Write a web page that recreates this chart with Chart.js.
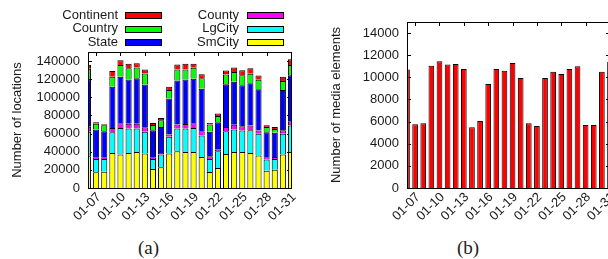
<!DOCTYPE html>
<html>
<head>
<meta charset="utf-8">
<script src="https://cdn.jsdelivr.net/npm/chart.js@4/dist/chart.umd.min.js"></script>
<style>
  html, body { margin: 0; padding: 0; background: #fff; overflow: hidden; width: 608px; height: 259px; }
  #wrapA { position: absolute; left: 0; top: 0; }
  #wrapB { position: absolute; left: 300px; top: 0; }
  .cap { position: absolute; top: 237px; font: 19px "Liberation Serif", "Times New Roman", serif; color: #222; }
</style>
</head>
<body>
<div id="wrapA"><canvas id="locChart" width="300" height="230"></canvas></div>
<div id="wrapB"><canvas id="mediaChart" width="320" height="230"></canvas></div>
<div class="cap" style="left:138px">(a)</div>
<div class="cap" style="left:457px">(b)</div>

<script>
// days 01-06 .. 01-31
const days = ['01-06','01-07','01-08','01-09','01-10','01-11','01-12','01-13','01-14','01-15',
              '01-16','01-17','01-18','01-19','01-20','01-21','01-22','01-23','01-24','01-25',
              '01-26','01-27','01-28','01-29','01-30','01-31'];

// (a) number of locations, stacked bottom -> top
const smCity    = [35000,17300,18000,38700,36900,38700,39800,38000,21000,22800,38000,40600,39800,39800,34300,17600,22000,37600,39800,39800,38700,35800,19000,20200,36900,39800];
const lgCity    = [27000,14700,14000,22800,29400,26800,25700,24000,11000,14100,18400,24900,25700,26500,23600,14400,18400,25100,24700,23600,25100,24000,12300,11800,22900,29000];
const county    = [5500,2000,2000,4800,5100,5500,5500,5000,2000,1800,2600,4400,5100,5100,4800,3000,1800,4500,5300,4800,5200,3700,2600,2200,3800,4700];
const state     = [52300,30500,28600,45400,51400,48800,50000,47200,29600,28600,39800,48800,49200,49100,46900,27000,30400,47100,47400,45000,46500,45300,27600,26600,44400,50800];
const country   = [11700,6500,6700,11100,12900,12200,11800,12200,5900,7400,9200,12100,11000,12200,11400,8000,6800,10900,10800,11200,10500,10700,5800,4400,10000,11400];
const continent = [4500,1500,1100,6200,5100,5100,4700,4400,2200,2600,3700,5500,6300,4400,4400,1700,2800,4500,4800,5400,6000,4500,1800,2100,4800,6300];
const locTicks  = [0,20000,40000,60000,80000,100000,120000,140000];

// (b) number of media elements
const media = [10700,5750,5850,11050,11450,11150,11200,10750,5500,6050,9400,10750,10600,11300,9950,5850,5600,9950,10500,10300,10750,11000,5700,5700,10500,11400];
const mediaTicks = [0,2000,4000,6000,8000,10000,12000,14000];

const TXT = '#1a1a1a';
const FONT = { family: '"Liberation Sans", Arial, sans-serif', size: 13 };
const FONT_CSS = '13px "Liberation Sans", Arial, sans-serif';

// gnuplot style frame: border, inward tics, rotated date labels every 3 days
const framePlugin = {
  id: 'frame',
  beforeDatasetsDraw(chart) {
    const { ctx, chartArea: a, scales } = chart;
    ctx.save();
    ctx.strokeStyle = '#000';
    ctx.lineWidth = 1;
    ctx.beginPath();
    scales.y.ticks.forEach(t => {
      const py = Math.round(scales.y.getPixelForValue(t.value)) + 0.5;
      ctx.moveTo(a.left, py); ctx.lineTo(a.left + 4, py);
      ctx.moveTo(a.right, py); ctx.lineTo(a.right - 4, py);
    });
    days.forEach((d, i) => {
      if (i % 3 !== 1) return;
      const px = Math.round(scales.x.getPixelForValue(i)) + 0.5;
      ctx.moveTo(px, a.top); ctx.lineTo(px, a.top + 4);
    });
    ctx.stroke();
    ctx.restore();
  },
  afterDatasetsDraw(chart) {
    const { ctx, chartArea: a, scales } = chart;
    ctx.save();
    ctx.strokeStyle = '#000';
    ctx.lineWidth = 1;
    ctx.strokeRect(Math.round(a.left) + 0.5, Math.round(a.top) + 0.5,
                   Math.round(a.right - a.left), Math.round(a.bottom - a.top));
    ctx.font = FONT_CSS;
    ctx.fillStyle = TXT;
    ctx.textAlign = 'right';
    ctx.textBaseline = 'middle';
    days.forEach((d, i) => {
      if (i % 3 !== 1) return;
      ctx.save();
      ctx.translate(scales.x.getPixelForValue(i) + 3, a.bottom + 7);
      ctx.rotate(-Math.PI / 4);
      ctx.fillText(d, 0, 0);
      ctx.restore();
    });
    ctx.restore();
  }
};

// key in two columns, text then sample box
const keyPlugin = {
  id: 'key',
  afterDraw(chart) {
    const order = ['Continent', 'Country', 'State', 'County', 'LgCity', 'SmCity'];
    const textX = [118, 239], boxX = [125, 247], rowY = [15, 28.5, 42];
    const { ctx } = chart;
    ctx.save();
    ctx.font = FONT_CSS;
    ctx.textAlign = 'right';
    ctx.textBaseline = 'middle';
    order.forEach((name, k) => {
      const col = Math.floor(k / 3), row = k % 3;
      const ds = chart.data.datasets.find(d => d.label === name);
      ctx.fillStyle = TXT;
      ctx.fillText(name, textX[col], rowY[row]);
      ctx.fillStyle = ds.backgroundColor;
      ctx.fillRect(boxX[col], Math.round(rowY[row] - 3), 36, 6);
      ctx.strokeStyle = '#000';
      ctx.strokeRect(boxX[col] + 0.5, Math.round(rowY[row] - 3) + 0.5, 36, 6);
    });
    ctx.restore();
  }
};

function xAxis() {
  return {
    offset: false,
    grid: { display: false },
    border: { display: false },
    ticks: { display: false },
    afterFit: s => { s.height = 42; s.paddingLeft = 0; s.paddingRight = 0; }
  };
}

function yAxis(max, tickVals, title, width, titlePad) {
  return {
    min: 0, max: max,
    grid: { display: false, drawTicks: false },
    border: { display: false },
    ticks: { padding: 8, color: TXT, font: FONT, callback: v => String(v) },
    afterBuildTicks: s => { s.ticks = tickVals.map(v => ({ value: v })); },
    title: { display: true, text: title, color: TXT, font: FONT, padding: { top: titlePad, bottom: 0 } },
    afterFit: s => { s.width = width; s.paddingTop = 0; s.paddingBottom = 0; }
  };
}

const bar = (label, data, color) => ({
  label, data, backgroundColor: color, borderColor: '#000', borderWidth: 1,
  barPercentage: 0.75, categoryPercentage: 1, clip: 0
});

new Chart(document.getElementById('locChart'), {
  type: 'bar',
  data: {
    labels: days,
    datasets: [
      bar('SmCity', smCity, '#ffff00'),
      bar('LgCity', lgCity, '#00ffff'),
      bar('County', county, '#ff00ff'),
      bar('State', state, '#0000ff'),
      bar('Country', country, '#00ff00'),
      bar('Continent', continent, '#ff0000')
    ]
  },
  options: {
    responsive: false,
    animation: false,
    layout: { padding: { top: 52, right: 9, left: 0, bottom: 0 } },
    plugins: { legend: { display: false }, tooltip: { enabled: false } },
    scales: {
      x: Object.assign(xAxis(), { stacked: true }),
      y: Object.assign(yAxis(150000, locTicks, 'Number of locations', 88, 10), { stacked: true })
    }
  },
  plugins: [framePlugin, keyPlugin]
});

new Chart(document.getElementById('mediaChart'), {
  type: 'bar',
  data: {
    labels: days,
    datasets: [Object.assign(bar('Media', media, '#ff0000'), { barPercentage: 0.7 })]
  },
  options: {
    responsive: false,
    animation: false,
    layout: { padding: { top: 22, right: 10, left: 0, bottom: 0 } },
    plugins: { legend: { display: false }, tooltip: { enabled: false } },
    scales: {
      x: xAxis(),
      y: yAxis(15000, mediaTicks, 'Number of media elements', 107, 29)
    }
  },
  plugins: [framePlugin]
});
</script>
</body>
</html>
